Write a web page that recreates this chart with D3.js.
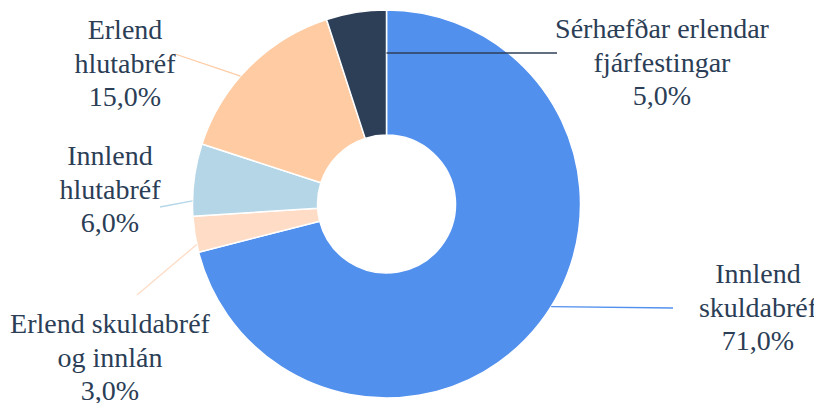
<!DOCTYPE html>
<html>
<head>
<meta charset="utf-8">
<script src="https://cdn.jsdelivr.net/npm/d3@7"></script>
<style>
  body { margin: 0; background: #fff; }
  svg { display: block; }
</style>
</head>
<body>
<svg id="donut" width="814" height="403"></svg>
<script>
// data (clockwise from 12 o'clock)
const categories = [
    "Innlend skuldabréf",
    "Erlend skuldabréf og innlán",
    "Innlend hlutabréf",
    "Erlend hlutabréf",
    "Sérhæfðar erlendar fjárfestingar"
];
const shares = [71, 3, 6, 15, 5];
const labelLines = [
    ["Innlend", "skuldabréf"],
    ["Erlend skuldabréf", "og innlán"],
    ["Innlend", "hlutabréf"],
    ["Erlend", "hlutabréf"],
    ["Sérhæfðar erlendar", "fjárfestingar"]
];
const colors = ["#5290ee", "#fedcc5", "#b4d6e7", "#fecba3", "#2c3f57"];

const svg = d3.select("#donut"),
    cx = 386.5,
    cy = 204,
    outerR = 194,
    innerR = 69;

// label placement: x/y of first baseline, leader line end near text,
// contact point on slice (fraction of the slice angle, radius)
const labelPos = [
    { x: 758, y: 283, lx: 673, ly: 308, t: 0.477, r: outerR },
    { x: 110, y: 333, lx: 137, ly: 295, t: 0.22, r: outerR },
    { x: 110, y: 165, lx: 160, ly: 207, t: 0.21, r: outerR },
    { x: 125, y: 39, lx: 175, ly: 54, t: 0.43, r: outerR },
    { x: 662, y: 38, lx: 557, ly: 53, t: 1, r: 151 }
];

const is = d3.formatLocale({ decimal: ",", thousands: ".", grouping: [3], currency: ["", " kr."] });
const pct = is.format(".1%");

const pie = d3.pie().sort(null).value(d => d.value);
const arcs = pie(categories.map((c, i) => ({ name: c, value: shares[i], i: i })));

const arc = d3.arc().innerRadius(innerR).outerRadius(outerR);

const g = svg.append("g").attr("transform", `translate(${cx},${cy})`);

g.selectAll("path.slice")
    .data(arcs)
    .join("path")
    .attr("class", "slice")
    .attr("d", arc)
    .attr("fill", d => colors[d.data.i])
    .attr("stroke", "#fff")
    .attr("stroke-width", 1.5)
    .attr("stroke-linejoin", "round");

// leader lines
svg.selectAll("line.leader")
    .data(arcs)
    .join("line")
    .attr("class", "leader")
    .attr("x1", d => labelPos[d.data.i].lx)
    .attr("y1", d => labelPos[d.data.i].ly)
    .attr("x2", d => {
        const p = labelPos[d.data.i];
        const a = d.startAngle + p.t * (d.endAngle - d.startAngle);
        return cx + p.r * Math.sin(a);
    })
    .attr("y2", d => {
        const p = labelPos[d.data.i];
        const a = d.startAngle + p.t * (d.endAngle - d.startAngle);
        return cy - p.r * Math.cos(a);
    })
    .attr("stroke", d => colors[d.data.i])
    .attr("stroke-width", 1.3);

// labels
const lineH = 33.5;
const labels = svg.selectAll("text.lbl")
    .data(arcs)
    .join("text")
    .attr("class", "lbl")
    .attr("text-anchor", "middle")
    .style("font-family", "Liberation Serif")
    .style("font-size", "28px")
    .style("fill", "#2b3e56");

labels.each(function (d) {
    const p = labelPos[d.data.i];
    const lines = labelLines[d.data.i].concat([pct(d.data.value / 100)]);
    d3.select(this).selectAll("tspan")
        .data(lines)
        .join("tspan")
        .attr("x", p.x)
        .attr("y", (s, k) => p.y + k * lineH)
        .text(s => s);
});
</script>
</body>
</html>
